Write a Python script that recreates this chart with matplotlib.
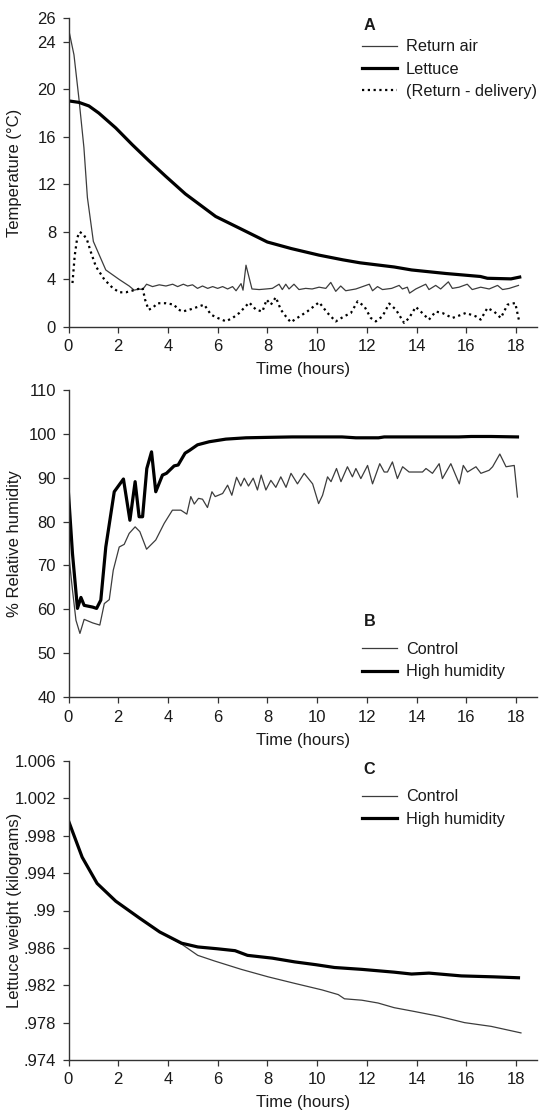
import matplotlib
matplotlib.use("Agg")
import matplotlib.pyplot as plt

plt.rcParams['font.family'] = ['Liberation Sans', 'DejaVu Sans']

# ---------------- Panel A data ----------------
ra_t = [0.02, 0.22, 0.42, 0.62, 0.76, 1.0, 1.5, 2.04, 2.44, 2.64, 2.84, 2.98, 3.14, 3.38, 3.65, 3.92,
        4.19, 4.39, 4.62, 4.79, 4.99, 5.19, 5.39, 5.6, 5.8, 6.0, 6.2, 6.4, 6.6, 6.74, 6.94, 7.02, 7.14,
        7.38, 7.67, 7.95, 8.2, 8.47, 8.6, 8.74, 8.87, 9.07, 9.27, 9.54, 9.8, 10.08, 10.35, 10.55, 10.75,
        10.95, 11.15, 11.56, 11.83, 12.1, 12.23, 12.43, 12.63, 13.0, 13.3, 13.43, 13.63, 13.72, 13.97,
        14.17, 14.37, 14.5, 14.77, 14.97, 15.28, 15.44, 15.71, 16.04, 16.24, 16.58, 16.92, 17.26, 17.46,
        17.73, 18.1]
ra_v = [24.9, 22.9, 19.2, 15.1, 10.9, 7.2, 4.8, 4.0, 3.45, 3.1, 3.2, 3.15, 3.6, 3.4, 3.55, 3.45,
        3.6, 3.4, 3.6, 3.45, 3.55, 3.25, 3.45, 3.25, 3.4, 3.25, 3.4, 3.2, 3.4, 3.05, 3.65, 3.1, 5.2,
        3.2, 3.15, 3.2, 3.25, 3.6, 3.15, 3.6, 3.2, 3.6, 3.15, 3.25, 3.2, 3.35, 3.25, 3.75, 3.0,
        3.45, 3.05, 3.2, 3.4, 3.6, 3.05, 3.4, 3.15, 3.25, 3.5, 3.2, 3.35, 2.85, 3.2,
        3.4, 3.6, 3.15, 3.5, 3.2, 3.8, 3.25, 3.35, 3.6, 3.15, 3.35, 3.2, 3.5, 3.15,
        3.25, 3.5]

let_t = [0.09, 0.42, 0.82, 1.22, 1.9, 2.56, 3.23, 3.9, 4.7, 5.92, 6.89, 8.0, 8.96, 10.07, 11.04,
         11.73, 13.1, 13.8, 15.19, 16.57, 16.85, 17.8, 18.15]
let_v = [19.0, 18.9, 18.6, 18.0, 16.75, 15.35, 14.0, 12.7, 11.2, 9.3, 8.3, 7.15, 6.6, 6.05, 5.65,
         5.4, 5.05, 4.8, 4.5, 4.25, 4.1, 4.05, 4.2]

rd_t = [0.16, 0.25, 0.35, 0.45, 0.6, 0.75, 0.9, 1.1, 1.44, 1.77, 2.04, 2.31, 2.64, 2.98, 3.08, 3.22,
        3.38, 3.58, 3.92, 4.25, 4.39, 4.59, 4.93, 5.26, 5.46, 5.73, 6.0, 6.33, 6.6, 6.87, 7.27, 7.54,
        7.8, 7.97, 8.14, 8.34, 8.54, 8.74, 8.94, 9.2, 9.6, 10.08, 10.42, 10.75, 11.09, 11.36, 11.63,
        11.9, 12.16, 12.36, 12.63, 12.9, 13.17, 13.5, 13.7, 13.97, 14.17, 14.5, 14.77, 15.04, 15.44,
        15.71, 15.98, 16.38, 16.58, 16.85, 17.12, 17.39, 17.66, 17.97, 18.13]
rd_v = [3.7, 6.0, 7.5, 8.0, 7.8, 7.3, 6.3, 5.1, 4.0, 3.3, 2.92, 2.92, 3.1, 3.3, 2.3, 1.45,
        1.6, 2.0, 2.0, 1.88, 1.5, 1.3, 1.5, 1.74, 1.88, 1.04, 0.76, 0.48, 0.76, 1.18, 2.06, 1.46,
        1.3, 2.3, 1.88, 2.5, 1.46, 0.9, 0.4, 0.76, 1.3, 2.08, 1.18, 0.47, 0.9, 1.18, 2.16,
        1.74, 0.76, 0.47, 0.9, 1.97, 1.46, 0.34, 0.76, 1.69, 1.3, 0.62, 1.3, 1.18, 0.76,
        0.96, 1.18, 0.9, 0.62, 1.6, 1.3, 0.76, 1.88, 2.02, 0.47]

# ---------------- Panel B data ----------------
hb_t = [0.0, 0.16, 0.36, 0.5, 0.63, 0.97, 1.13, 1.3, 1.5, 1.84, 2.21, 2.47, 2.68, 2.84, 2.98, 3.15,
        3.34, 3.51, 3.78, 3.94, 4.25, 4.41, 4.69, 4.86, 5.19, 5.66, 6.33, 7.14, 8.0, 9.0, 10.0, 11.0,
        11.56, 12.47, 12.7, 14.0, 15.7, 16.2, 17.0, 18.06]
hb_v = [86.4, 72.7, 60.2, 62.7, 60.9, 60.5, 60.2, 62.1, 74.2, 86.8, 89.7, 80.3, 89.1, 81.1, 81.1, 92.1,
        95.9, 86.8, 90.6, 91.0, 92.7, 92.9, 95.6, 96.2, 97.5, 98.2, 98.8, 99.1, 99.2, 99.3, 99.3, 99.3,
        99.1, 99.1, 99.3, 99.3, 99.3, 99.4, 99.4, 99.3]

cb_t = [0.0, 0.16, 0.3, 0.46, 0.63, 0.97, 1.26, 1.44, 1.64, 1.8, 2.04, 2.24, 2.44, 2.68, 2.87, 3.14,
        3.51, 3.85, 4.18, 4.52, 4.76, 4.92, 5.06, 5.23, 5.39, 5.59, 5.77, 5.9, 6.2, 6.4, 6.57, 6.76,
        6.93, 7.07, 7.24, 7.43, 7.6, 7.75, 7.94, 8.14, 8.34, 8.54, 8.75, 8.95, 9.21, 9.48, 9.82,
        10.06, 10.22, 10.42, 10.56, 10.78, 10.96, 11.22, 11.42, 11.56, 11.76, 12.03, 12.23, 12.52,
        12.7, 12.83, 13.03, 13.23, 13.44, 13.7, 14.24, 14.38, 14.64, 14.91, 15.04, 15.38, 15.72,
        15.88, 16.05, 16.39, 16.59, 16.92, 17.06, 17.35, 17.6, 17.93, 18.06]
cb_v = [73.0, 64.4, 57.5, 54.5, 57.7, 56.9, 56.4, 61.3, 62.2, 68.9, 74.2, 74.8, 77.3, 78.8, 77.7, 73.7,
        75.8, 79.6, 82.6, 82.6, 81.7, 85.7, 84.0, 85.3, 85.1, 83.2, 86.8, 85.7, 86.4, 88.3, 86.0, 90.1,
        88.1, 89.9, 88.1, 89.9, 87.2, 90.6, 87.2, 89.4, 87.8, 90.2, 87.8, 91.0, 88.6, 91.0, 88.6,
        84.1, 86.0, 90.2, 89.1, 92.1, 89.1, 92.5, 90.2, 92.1, 89.8, 92.8, 88.6, 93.2,
        91.3, 91.3, 93.6, 89.8, 92.5, 91.3, 91.3, 92.1, 91.0, 93.2, 89.8, 93.2, 88.6,
        92.8, 91.3, 92.5, 91.0, 91.7, 92.5, 95.4, 92.5, 92.8, 85.6]

# ---------------- Panel C data ----------------
hc_t = [0.0, 0.55, 1.15, 1.9, 2.85, 3.67, 4.55, 5.2, 6.0, 6.7, 7.2, 8.2, 9.1, 9.95, 10.7, 11.8,
        13.1, 13.8, 14.5, 15.8, 17.1, 18.1]
hc_v = [0.9996, 0.9957, 0.9929, 0.9910, 0.9892, 0.9877, 0.9865, 0.9861, 0.9859, 0.9857, 0.9852,
        0.9849, 0.9845, 0.9842, 0.9839, 0.9837, 0.9834, 0.9832, 0.9833, 0.9830, 0.9829, 0.9828]
cc_t = [0.0, 0.55, 1.15, 1.9, 2.85, 3.67, 4.55, 5.2, 5.87, 6.95, 8.03, 9.1, 10.2, 10.85, 11.1, 11.8,
        12.45, 13.1, 13.9, 14.86, 15.93, 17.0, 18.2]
cc_v = [0.9996, 0.9957, 0.9929, 0.9910, 0.9892, 0.9877, 0.9864, 0.9852, 0.9846, 0.9837, 0.9829,
        0.9822, 0.9815, 0.9810, 0.98055, 0.9804, 0.9801, 0.9796, 0.9792, 0.9787, 0.9780, 0.9776, 0.9769]

x_ticks = [0, 2, 4, 6, 8, 10, 12, 14, 16, 18]
a_yticks = [0, 4, 8, 12, 16, 20, 24, 26]
b_yticks = [40, 50, 60, 70, 80, 90, 100, 110]
c_yticks = [0.974, 0.978, 0.982, 0.986, 0.99, 0.994, 0.998, 1.002, 1.006]
c_ylabels = ['.974', '.978', '.982', '.986', '.99', '.994', '.998', '1.002', '1.006']

W, H = 539, 1112
fig = plt.figure(figsize=(W / 100, H / 100), dpi=100)

FS = 12
LFS = 11.7
AX_L, AX_R = 68.5, 537
THIN = dict(color='#3c3c3c', lw=0.9)
THICK = dict(color='black', lw=2.3)
LEG_X = (362 - AX_L) / (AX_R - AX_L)


def make_axes(top_px, bottom_px):
    ax = fig.add_axes([AX_L / W, (H - bottom_px) / H, (AX_R - AX_L) / W, (bottom_px - top_px) / H])
    ax._px = (top_px, bottom_px)
    for s in ['top', 'right']:
        ax.spines[s].set_visible(False)
    for s in ['left', 'bottom']:
        ax.spines[s].set_color('#333333')
        ax.spines[s].set_linewidth(1.0)
    ax.tick_params(axis='both', direction='out', length=4, width=0.9, colors='#333333',
                   labelsize=FS, labelcolor='#1a1a1a', pad=5)
    ax.set_xlim(0, (AX_R - AX_L) / 24.86)
    ax.set_xticks(x_ticks)
    ax.set_xticklabels([str(v) for v in x_ticks])
    hpx = bottom_px - top_px
    ax.set_xlabel('Time (hours)', fontsize=FS, color='#1a1a1a')
    ax.xaxis.set_label_coords(0.5, -43 / hpx)
    ax.xaxis.label.set_va('center')
    return ax


def set_ylabel(ax, text):
    ax.set_ylabel(text, fontsize=FS, color='#1a1a1a', va='center')
    ax.yaxis.set_label_coords(-(AX_L - 15) / (AX_R - AX_L), 0.5)


def frac(ax, ypx):
    top, bottom = ax._px
    return (bottom - ypx) / (bottom - top)


def legend(ax, handles, labels, title, title_y, row1_y):
    ax.text(LEG_X + 0.003, frac(ax, title_y), title, transform=ax.transAxes, ha='left', va='center',
            fontsize=LFS, fontweight='bold', color='#1a1a1a')
    lg = ax.legend(handles, labels, loc='upper left', bbox_to_anchor=(LEG_X, frac(ax, row1_y - 7.6)),
                   frameon=False, fontsize=LFS, handlelength=2.15, handletextpad=0.55,
                   labelspacing=0.45, borderpad=0, borderaxespad=0)
    for t in lg.get_texts():
        t.set_color('#1a1a1a')
    return lg

# ---------- A ----------
axA = make_axes(18, 327)
axA.set_ylim(0, 26)
axA.set_yticks(a_yticks)
axA.set_yticklabels([str(v) for v in a_yticks])
l1, = axA.plot(ra_t, ra_v, **THIN)
l2, = axA.plot(let_t, let_v, **THICK)
l3, = axA.plot(rd_t, rd_v, color='black', lw=1.6, linestyle=(0, (1, 1.6)))
set_ylabel(axA, 'Temperature (°C)')
legend(axA, [l1, l2, l3], ['Return air', 'Lettuce', '(Return - delivery)'], 'A', 25, 47)

# ---------- B ----------
axB = make_axes(390, 697)
axB.set_ylim(40, 110)
axB.set_yticks(b_yticks)
axB.set_yticklabels([str(v) for v in b_yticks])
m1, = axB.plot(cb_t, cb_v, **THIN)
m2, = axB.plot(hb_t, hb_v, **THICK)
set_ylabel(axB, '% Relative humidity')
legend(axB, [m1, m2], ['Control', 'High humidity'], 'B', 621, 649.5)

# ---------- C ----------
axC = make_axes(761, 1060)
axC.set_ylim(0.974, 1.006)
axC.set_yticks(c_yticks)
axC.set_yticklabels(c_ylabels)
n1, = axC.plot(cc_t, cc_v, **THIN)
n2, = axC.plot(hc_t, hc_v, **THICK)
set_ylabel(axC, 'Lettuce weight (kilograms)')
legend(axC, [n1, n2], ['Control', 'High humidity'], 'C', 769, 797)

fig.savefig('out.png', dpi=100, facecolor='white')
